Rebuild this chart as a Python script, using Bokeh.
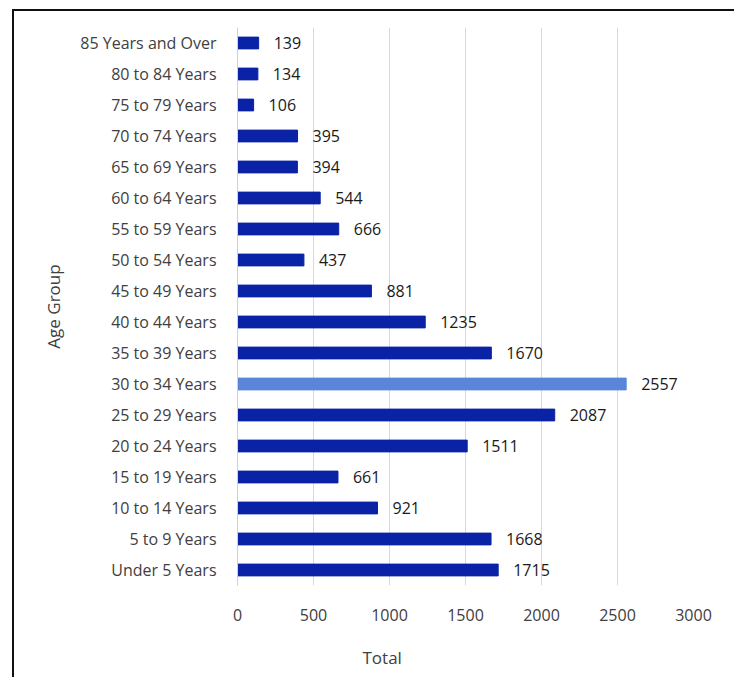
from bokeh.plotting import figure
from bokeh.models import ColumnDataSource, Title, Range1d, FixedTicker, InlineStyleSheet
from bokeh.core.properties import value
from bokeh.embed import file_html
from bokeh.resources import INLINE

# Population by age group
age_groups = [
    "Under 5 Years", "5 to 9 Years", "10 to 14 Years", "15 to 19 Years",
    "20 to 24 Years", "25 to 29 Years", "30 to 34 Years", "35 to 39 Years",
    "40 to 44 Years", "45 to 49 Years", "50 to 54 Years", "55 to 59 Years",
    "60 to 64 Years", "65 to 69 Years", "70 to 74 Years", "75 to 79 Years",
    "80 to 84 Years", "85 Years and Over",
]
totals = [1715, 1668, 921, 661, 1511, 2087, 2557, 1670, 1235, 881,
          437, 666, 544, 394, 395, 106, 134, 139]
x_ticks = [0, 500, 1000, 1500, 2000, 2500, 3000]

BAR = "#0a22a6"
PEAK = "#5a85d8"
FONT = "Open Sans"

peak = max(totals)
colors = [PEAK if t == peak else BAR for t in totals]
source = ColumnDataSource(dict(
    group=age_groups,
    total=totals,
    label=[str(t) for t in totals],
    color=colors,
))

# frame drawn around the whole chart, running off the right and bottom edges;
# the host is held to the page height so the bottom title strip is cropped
frame_css = InlineStyleSheet(css="""
:host { overflow: hidden; height: 677px !important; }
:host::after {
  content: "";
  position: absolute;
  left: 12px; top: 9px;
  width: 760px; height: 760px;
  border: 2.5px solid #111;
  pointer-events: none;
}
""")

p = figure(
    y_range=age_groups,
    x_range=Range1d(0, 3000),
    frame_width=456, frame_height=558,
    min_border_left=237, min_border_right=41,
    min_border_top=27, min_border_bottom=92,
    output_backend="svg", toolbar_location=None,
    stylesheets=[frame_css],
)
p.outline_line_color = None
p.background_fill_color = "white"
p.border_fill_color = "white"

p.hbar(y="group", right="total", height=0.38, left=0, source=source,
       fill_color="color", line_color="color")

p.text(x="total", y="group", text="label", source=source,
       x_offset=15, text_baseline="middle", text_align="left",
       text_font=value(FONT), text_font_size="16px", text_color="#1a1a1a")

# x axis: value ticks, no line
p.xaxis.ticker = FixedTicker(ticks=x_ticks)
p.xaxis.axis_line_color = None
p.xaxis.major_tick_line_color = None
p.xaxis.minor_tick_line_color = None
p.xaxis.major_label_standoff = 17
p.xaxis.major_label_text_font = FONT
p.xaxis.major_label_text_font_size = "16px"
p.xaxis.major_label_text_color = "#404040"

# y axis: categories
p.yaxis.axis_line_color = "#d0d0d0"
p.yaxis.major_tick_line_color = None
p.yaxis.minor_tick_line_color = None
p.yaxis.major_label_standoff = 15
p.yaxis.major_label_text_font = FONT
p.yaxis.major_label_text_font_size = "16px"
p.yaxis.major_label_text_color = "#404040"

p.xgrid.grid_line_color = "#d9d9d9"
p.ygrid.grid_line_color = None

# axis titles, centred on the labelled plot area rather than the frame
p.add_layout(Title(text="Total", align="left", offset=125, standoff=40,
                   text_font=FONT, text_font_size="17px",
                   text_font_style="normal", text_color="#404040"), "below")
p.add_layout(Title(text="Age Group", align="center", offset=0, standoff=25,
                   text_font=FONT, text_font_size="17px",
                   text_font_style="normal", text_color="#404040"), "left")

open("out.html", "w").write(file_html(p, INLINE))
